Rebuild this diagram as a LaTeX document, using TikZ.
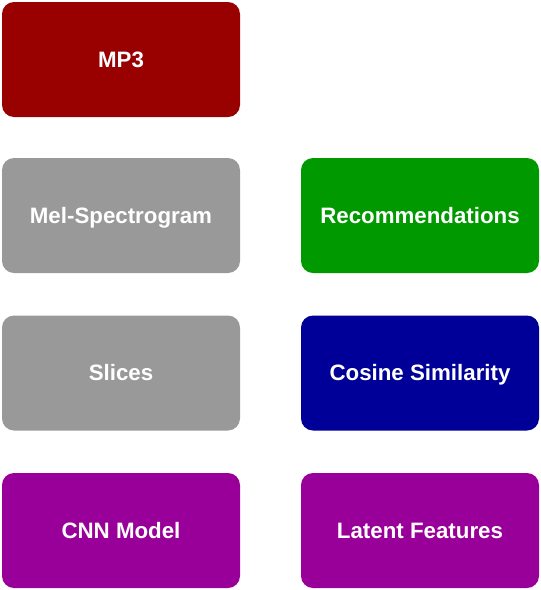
\documentclass[tikz,border=0pt]{standalone}
\usepackage{fontspec}
\setmainfont{Liberation Sans}
\begin{document}
\begin{tikzpicture}
[x=1pt,y=-1pt,%%%%%%%%%%%%%%%%%%%%%%%%%%%%%%
box/.style={rectangle,rounded corners=12pt,text=white,font=\fontsize{22.3}{26}\selectfont\bfseries,
  minimum width=238pt,minimum height=115pt,inner sep=0pt,text height=18pt,text depth=2.5pt},
]%%%%%%%%%%%%%%%%%%%%%%%%%%%%%%
\useasboundingbox (0,0) rectangle (541,590);

\node[box,fill={rgb,255:red,153;green,0;blue,0}] (mp3) at (121,59.5){MP3};
\node[box,fill={rgb,255:red,153;green,153;blue,153}] (mel) at (121,215.5){Mel-Spectrogram};
\node[box,fill={rgb,255:red,153;green,153;blue,153}] (slices) at (121,373){Slices};
\node[box,fill={rgb,255:red,153;green,0;blue,153}] (cnn) at (121,530.5){CNN Model};

\node[box,fill={rgb,255:red,0;green,153;blue,0}] (rec) at (420,215.5){Recommendations};
\node[box,fill={rgb,255:red,0;green,0;blue,153}] (cos) at (420,373){Cosine Similarity};
\node[box,fill={rgb,255:red,153;green,0;blue,153}] (latent) at (420,530.5){Latent Features};
\end{tikzpicture}
\end{document}
